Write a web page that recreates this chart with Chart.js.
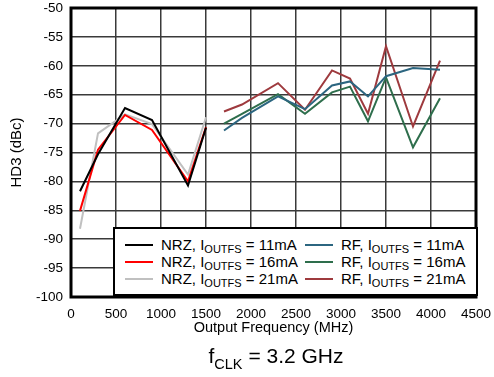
<!DOCTYPE html>
<html>
<head>
<meta charset="utf-8">
<script src="https://cdn.jsdelivr.net/npm/chart.js@4/dist/chart.umd.min.js"></script>
<style>
  html, body { margin: 0; padding: 0; background: #fff; }
  #wrap { position: relative; width: 494px; height: 377px; font-family: "Liberation Sans", Arial, sans-serif; }
  #wrap canvas { position: absolute; left: 0; top: 0; }
  .legend {
    position: absolute; left: 113px; top: 227px; width: 361px; height: 65px;
    border: 2px solid #000; background: #fff;
  }
  .item { position: absolute; height: 18px; font-size: 15px; line-height: 18px; color: #000; white-space: nowrap; }
  .item .swatch { position: absolute; left: 0; top: 8px; width: 28px; height: 2px; }
  .item .txt { position: absolute; left: 36px; top: 0; }
  .item sub { font-size: 11px; vertical-align: -3px; line-height: 0; }
  .caption {
    position: absolute; left: 0; width: 552px; top: 344px; text-align: center;
    font-size: 21px; color: #000;
  }
  .caption sub { font-size: 14.5px; vertical-align: -6px; line-height: 0; }
</style>
</head>
<body>
<div id="wrap">
  <canvas id="hd3" width="494" height="377"></canvas>
  <div class="legend" id="legend"></div>
  <div class="caption">f<sub>CLK</sub> = 3.2 GHz</div>
</div>
<script>
// ---- data
const freqNrz = [100, 300, 600, 900, 1300, 1500];
const nrz11 = [-81.7, -75.3, -67.3, -69.4, -80.7, -70.7];
const nrz16 = [-85.1, -74.5, -68.5, -71.1, -80.0, -70.6];
const nrz21 = [-88.2, -71.7, -68.4, -70.1, -78.8, -68.9];

const freqRf = [1700, 1900, 2300, 2600, 2900, 3100, 3300, 3500, 3800, 4100];
const rf11 = [-71.2, -69.0, -65.3, -67.5, -63.4, -62.7, -65.3, -61.8, -60.4, -60.7];
const rf16 = [-70.0, -68.3, -64.9, -68.3, -64.6, -63.6, -69.6, -62.0, -74.1, -65.6];
const rf21 = [-67.9, -66.7, -63.0, -67.6, -60.8, -62.2, -68.3, -56.6, -70.5, -59.1];

const xTicks = [0, 500, 1000, 1500, 2000, 2500, 3000, 3500, 4000, 4500];
const yTicks = [-100, -95, -90, -85, -80, -75, -70, -65, -60, -55, -50];

const series = [
  { name: "NRZ", current: "11mA", x: freqNrz, y: nrz11, color: "#000000" },
  { name: "NRZ", current: "16mA", x: freqNrz, y: nrz16, color: "#ff0000" },
  { name: "NRZ", current: "21mA", x: freqNrz, y: nrz21, color: "#c0c0c0" },
  { name: "RF", current: "11mA", x: freqRf, y: rf11, color: "#2c6680" },
  { name: "RF", current: "16mA", x: freqRf, y: rf16, color: "#2e6e4c" },
  { name: "RF", current: "21mA", x: freqRf, y: rf21, color: "#9e3a3e" },
];

const font = "'Liberation Sans', Arial, sans-serif";

// thick black frame round the plot area
const frame = {
  id: "frame",
  afterDatasetsDraw(chart) {
    const a = chart.chartArea;
    const ctx = chart.ctx;
    ctx.save();
    ctx.strokeStyle = "#000";
    ctx.lineWidth = 3;
    ctx.strokeRect(a.left, a.top, a.right - a.left, a.bottom - a.top);
    ctx.restore();
  },
};

new Chart(document.getElementById("hd3"), {
  type: "scatter",
  data: {
    datasets: series.map((s) => ({
      label: s.name + ", IOUTFS = " + s.current,
      data: s.x.map((f, i) => ({ x: f, y: s.y[i] })),
      showLine: true,
      borderColor: s.color,
      backgroundColor: s.color,
      borderWidth: 2,
      pointRadius: 0,
      tension: 0,
    })),
  },
  options: {
    responsive: false,
    animation: false,
    layout: { padding: { top: 8, right: 18, bottom: 40, left: 0 } },
    plugins: { legend: { display: false }, tooltip: { enabled: false } },
    scales: {
      x: {
        type: "linear",
        min: 0,
        max: 4500,
        afterBuildTicks: (sc) => { sc.ticks = xTicks.map((v) => ({ value: v })); },
        afterFit: (sc) => { sc.height = 40; sc.paddingLeft = 0; sc.paddingRight = 0; },
        grid: { color: "#3a3a3a", lineWidth: 1.5, drawTicks: false },
        border: { display: false },
        ticks: {
          color: "#000", font: { family: font, size: 13.5 }, padding: 9, maxRotation: 0,
          callback: (v) => String(v),
        },
        title: {
          display: true,
          text: "Output Frequency (MHz)",
          color: "#000",
          font: { family: font, size: 14.5 },
          padding: { top: 0, bottom: 0 },
        },
      },
      y: {
        min: -100,
        max: -50,
        afterBuildTicks: (sc) => { sc.ticks = yTicks.map((v) => ({ value: v })); },
        afterFit: (sc) => { sc.width = 71; sc.paddingTop = 0; sc.paddingBottom = 0; },
        grid: { color: "#3a3a3a", lineWidth: 1.5, drawTicks: false },
        border: { display: false },
        ticks: { color: "#000", font: { family: font, size: 13.5 }, padding: 8, callback: (v) => String(v) },
        title: {
          display: true,
          text: "HD3 (dBc)",
          color: "#000",
          font: { family: font, size: 15 },
          padding: { top: 8, bottom: 0 },
        },
      },
    },
  },
  plugins: [frame],
});

// legend with subscripts, two columns of three
const legend = document.getElementById("legend");
series.forEach((s, i) => {
  const item = document.createElement("div");
  item.className = "item";
  item.style.left = (i < 3 ? 10 : 190) + "px";
  item.style.top = (7 + (i % 3) * 17) + "px";
  item.innerHTML = `<span class="swatch" style="background:${s.color}"></span>` +
    `<span class="txt">${s.name}, I<sub>OUTFS</sub> = ${s.current}</span>`;
  legend.appendChild(item);
});
</script>
</body>
</html>
